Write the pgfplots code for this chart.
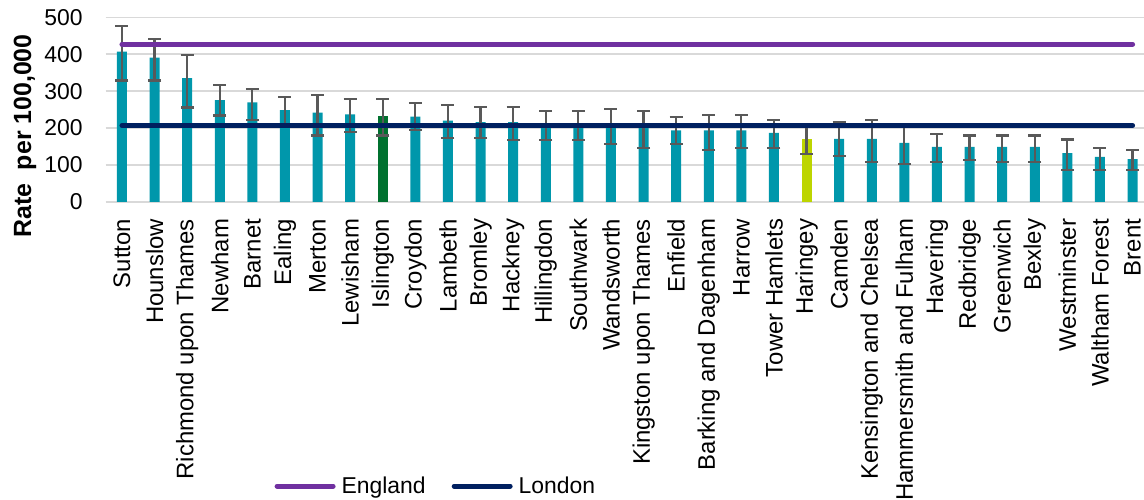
\documentclass[border=0pt]{standalone}
\usepackage{pgfplots}
\usepackage{pgfplotstable}
\pgfplotsset{compat=1.18}
\usepackage{fontspec}
\setmainfont{Liberation Sans}

\definecolor{barteal}{HTML}{0097AB}
\definecolor{islgreen}{HTML}{00712F}
\definecolor{harlime}{HTML}{BDD500}
\definecolor{england}{HTML}{7030A0}
\definecolor{london}{HTML}{002060}
\definecolor{errgray}{HTML}{595959}
\definecolor{gridgray}{HTML}{D9D9D9}

% rate per 100,000 with lower and upper confidence limits
\pgfplotstableread{
x  y    lo   hi
0  407  329  476
1  391  329  442
2  335  256  399
3  276  234  316
4  270  223  305
5  249  212  284
6  242  180  289
7  237  190  278
9  231  195  268
10 220  174  262
11 216  174  257
12 216  168  257
13 210  168  246
14 209  168  246
15 207  158  251
16 204  146  246
17 194  158  230
18 194  141  235
19 194  146  235
20 187  146  222
22 171  124  215
23 171  109  222
24 160  103  205
25 149  109  185
26 149  114  180
27 149  109  180
28 149  109  180
29 132   87  169
30 122   87  147
31 116   87  141
}\boroughs
\pgfplotstableread{
x  y    lo   hi
8  233  180  278
}\islington
\pgfplotstableread{
x  y    lo   hi
21 171  131  208
}\haringey

\begin{document}
\begin{tikzpicture}
\begin{axis}[
  width=1038.3bp, height=184.7bp, scale only axis,
  xmin=-0.5, xmax=31.35, ymin=0, ymax=500,
  ytick={0,100,...,500},
  xtick={0,...,31},
  xticklabels={Sutton,Hounslow,Richmond upon Thames,Newham,Barnet,Ealing,Merton,Lewisham,Islington,Croydon,Lambeth,Bromley,Hackney,Hillingdon,Southwark,Wandsworth,Kingston upon Thames,Enfield,Barking and Dagenham,Harrow,Tower Hamlets,Haringey,Camden,Kensington and Chelsea,Hammersmith and Fulham,Havering,Redbridge,Greenwich,Bexley,Westminster,Waltham Forest,Brent},
  major tick length=0pt,
  axis line style={draw=none},
  ymajorgrids,
  grid style={color=gridgray, line width=1.5bp},
  /pgf/number format/assume math mode=true,
  ticklabel style={font=\fontsize{23}{27}\selectfont},
  xticklabel style={rotate=90, anchor=east, inner sep=0pt, outer sep=17bp, font=\fontsize{24}{28}\selectfont},
  yticklabel style={anchor=east, inner sep=0pt, outer sep=23bp},
  ylabel={\textbf{Rate\ \ per 100,000}},
  every axis y label/.style={at={(axis description cs:-0.0777,0.357)}, rotate=90, anchor=center, font=\fontsize{25}{29}\selectfont},
  legend style={at={(axis description cs:0.318,-1.538)}, anchor=center, draw=none, fill=none,
    legend columns=2, font=\fontsize{23}{27}\selectfont, column sep=4bp,
    /tikz/every even column/.append style={column sep=24bp}},
  legend image code/.code={\draw[#1] (0bp,0bp) -- (56bp,0bp);},
  error bars/y dir=both, error bars/y explicit,
  error bars/error bar style={color=errgray, line width=2.2bp},
  error bars/error mark options={rotate=90, mark size=6.5bp, color=errgray, line width=2.2bp},
]
\coordinate (sw) at (rel axis cs:0,0);
\coordinate (ne) at (rel axis cs:1,1);

\addplot[ybar, bar width=10bp, bar shift=0pt, fill=barteal, draw=none, forget plot]
  table[x=x, y=y, y error plus expr=\thisrow{hi}-\thisrow{y}, y error minus expr=\thisrow{y}-\thisrow{lo}] {\boroughs};
\addplot[ybar, bar width=10bp, bar shift=0pt, fill=islgreen, draw=none, forget plot]
  table[x=x, y=y, y error plus expr=\thisrow{hi}-\thisrow{y}, y error minus expr=\thisrow{y}-\thisrow{lo}] {\islington};
\addplot[ybar, bar width=10bp, bar shift=0pt, fill=harlime, draw=none, forget plot]
  table[x=x, y=y, y error plus expr=\thisrow{hi}-\thisrow{y}, y error minus expr=\thisrow{y}-\thisrow{lo}] {\haringey};

\addplot[england, line width=5bp, line cap=round, mark=none, error bars/y dir=none] coordinates {(0,427) (31,427)};
\addlegendentry{England}
\addplot[london, line width=5bp, line cap=round, mark=none, error bars/y dir=none] coordinates {(0,207) (31,207)};
\addlegendentry{London}
\end{axis}
\pgfresetboundingbox
\useasboundingbox ([xshift=-105.7bp,yshift=-298bp]sw) rectangle ([yshift=17.3bp]ne);
\end{tikzpicture}
\end{document}
